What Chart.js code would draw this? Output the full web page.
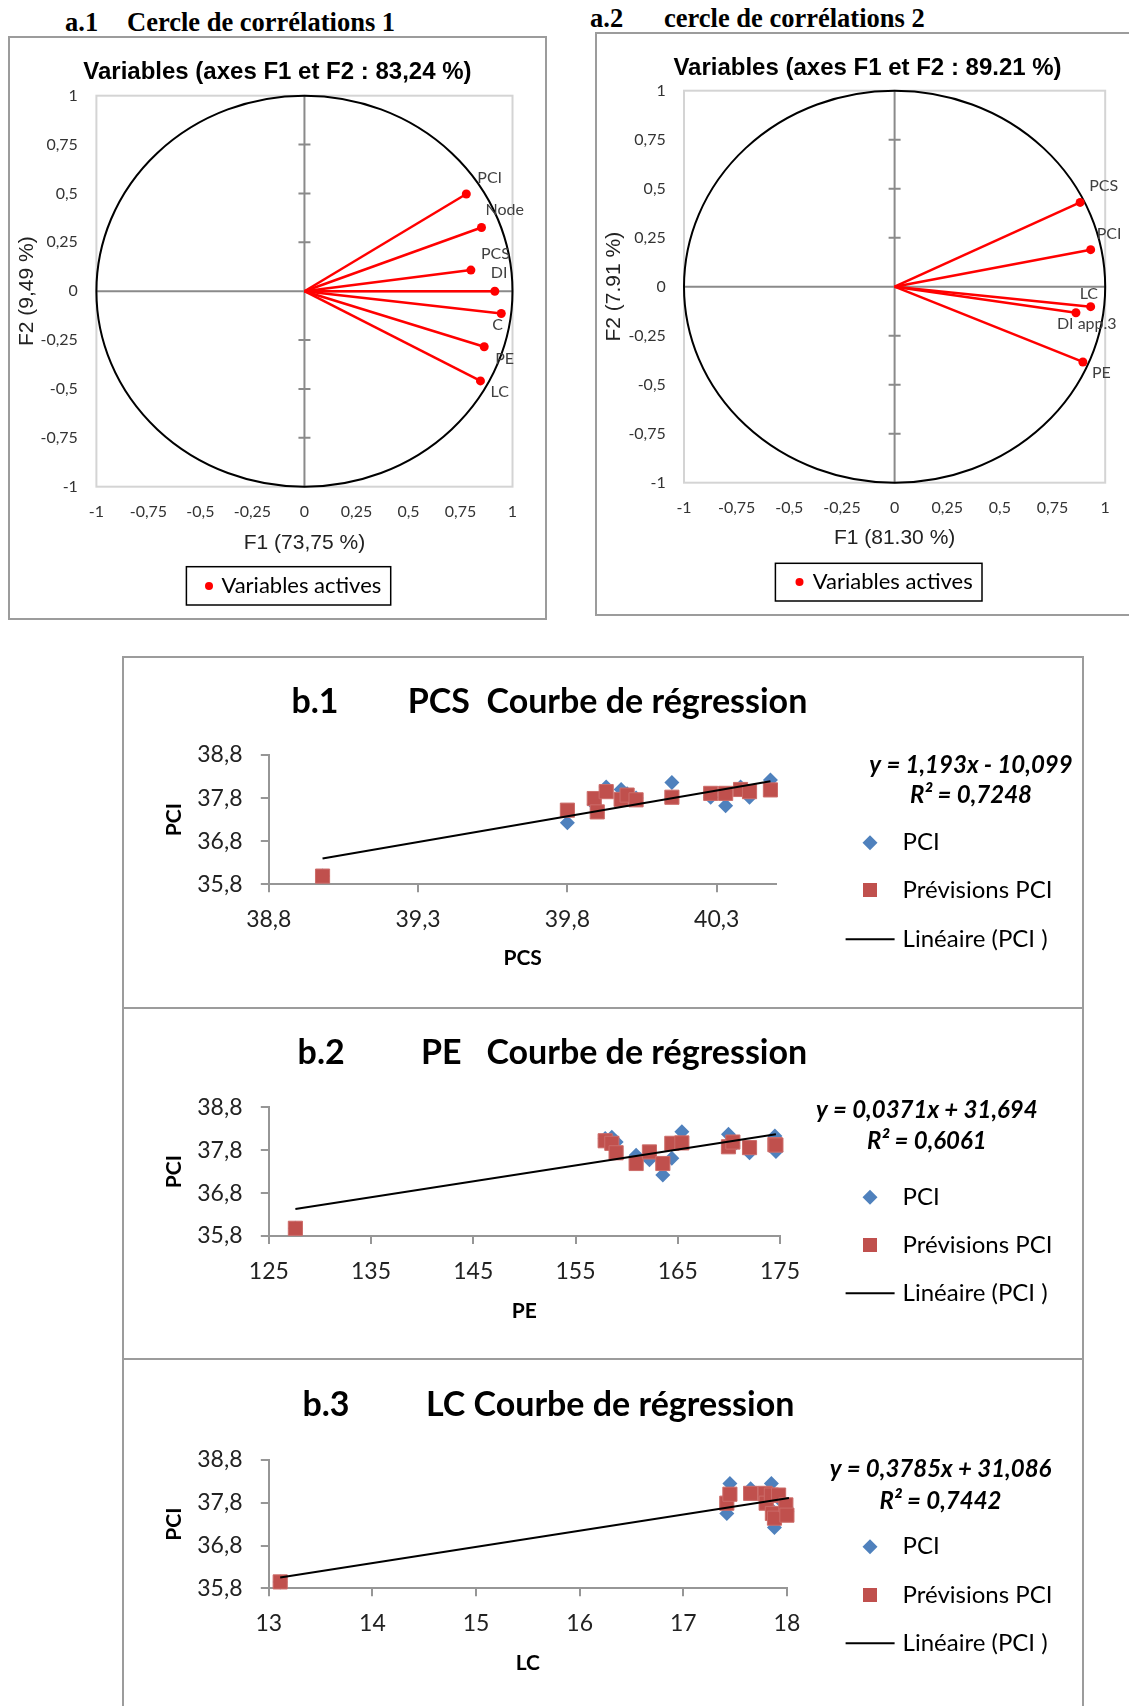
<!DOCTYPE html>
<html>
<head>
<meta charset="utf-8">
<script src="https://cdn.jsdelivr.net/npm/chart.js@4.4.1/dist/chart.umd.min.js"></script>
<style>
  body { margin: 0; background: #fff; width: 1129px; height: 1706px; position: relative; overflow: hidden; }
  .box { position: absolute; border: 2px solid #9c9c9c; box-sizing: border-box; }
  .head { position: absolute; font-family: "Liberation Serif", "Times New Roman", serif; font-weight: bold; font-size: 26.5px; line-height: 30px; white-space: pre; color: #000; }
  canvas { position: absolute; }
</style>
</head>
<body>
<div class="head" style="left:65px;top:7px">a.1</div>
<div class="head" style="left:127px;top:7px">Cercle de corrélations 1</div>
<div class="head" style="left:590px;top:3px">a.2</div>
<div class="head" style="left:664px;top:3px">cercle de corrélations 2</div>

<div class="box" style="left:8px;top:36px;width:539px;height:584px"></div>
<div class="box" style="left:595px;top:32px;width:540px;height:584px"></div>
<div class="box" style="left:122px;top:656px;width:962px;height:353px"></div>
<div class="box" style="left:122px;top:1007px;width:962px;height:353px"></div>
<div class="box" style="left:122px;top:1358px;width:962px;height:400px"></div>

<canvas id="a1" width="537" height="584" style="left:9px;top:36px"></canvas>
<canvas id="a2" width="533" height="583" style="left:596px;top:33px"></canvas>
<canvas id="b1" width="958" height="350" style="left:123px;top:657px"></canvas>
<canvas id="b2" width="958" height="349" style="left:123px;top:1009px"></canvas>
<canvas id="b3" width="958" height="345" style="left:123px;top:1361px"></canvas>

<script>
// cercle 1
var vars1 = ['PCI', 'Node', 'PCS', 'DI', 'C', 'PE', 'LC'];
var f1Vals1 = [0.778, 0.851, 0.800, 0.915, 0.946, 0.864, 0.846];
var f2Vals1 = [0.497, 0.326, 0.108, 0.000, -0.114, -0.284, -0.459];
// cercle 2
var vars2 = ['PCS', 'PCI', 'LC', 'DI app.3', 'PE'];
var f1Vals2 = [0.881, 0.931, 0.931, 0.861, 0.894];
var f2Vals2 = [0.430, 0.189, -0.102, -0.133, -0.384];
var corrTicks = [-1, -0.75, -0.5, -0.25, 0, 0.25, 0.5, 0.75, 1];

// b.1 PCS
var pcsVals = [38.98, 39.80, 39.89, 39.90, 39.93, 39.98, 40.00, 40.03, 40.15, 40.28, 40.33, 40.38, 40.41, 40.48];
var pciVals1 = [35.99, 37.23, 37.66, 37.55, 38.06, 38.00, 37.90, 37.80, 38.16, 37.82, 37.62, 38.06, 37.82, 38.22];
var prevVals1 = [35.99, 37.52, 37.79, 37.48, 37.95, 37.77, 37.87, 37.76, 37.82, 37.91, 37.91, 38.00, 37.95, 37.99];
var trendX1 = [38.98, 40.48];
var trendY1 = [36.40, 38.19];
var pcsTicks = [38.8, 39.3, 39.8, 40.3];

// b.2 PE
var peVals = [127.6, 157.9, 158.55, 158.97, 160.93, 162.23, 163.54, 164.42, 165.4, 169.96, 170.39, 172.02, 174.5, 174.6];
var pciVals2 = [35.98, 38.07, 38.10, 37.99, 37.68, 37.58, 37.22, 37.61, 38.23, 38.17, 37.90, 37.74, 38.13, 37.77];
var prevVals2 = [35.98, 38.02, 37.96, 37.74, 37.49, 37.76, 37.49, 37.96, 37.97, 37.88, 37.99, 37.86, 37.93, 37.92];
var trendX2 = [127.6, 174.6];
var trendY2 = [36.43, 38.17];
var peTicks = [125, 135, 145, 155, 165, 175];

// b.3 LC
var lcVals = [13.11, 17.42, 17.45, 17.65, 17.79, 17.80, 17.85, 17.86, 17.88, 17.92, 17.99, 18.00, 18.02];
var pciVals3 = [35.95, 37.55, 38.25, 38.13, 37.95, 37.82, 38.25, 37.62, 37.22, 37.90, 37.70, 37.60, 38.02];
var prevVals3 = [35.95, 37.79, 38.00, 38.02, 38.02, 37.79, 37.98, 37.55, 37.44, 37.98, 37.75, 37.51, 37.90];
var trendX3 = [13.11, 18.02];
var trendY3 = [36.05, 37.91];
var lcTicks = [13, 14, 15, 16, 17, 18];

var pciTicks = [35.8, 36.8, 37.8, 38.8];

Chart.defaults.font.family = 'Lato';

var fmtComma = function(v) { return String(v).replace('.', ','); };
var fmt1 = function(v) { return v.toFixed(1).replace('.', ','); };
var fmtInt = function(v) { return String(v); };

var corrDecor = function(names, lay) {
    return {
        id: 'corrDecor',
        beforeDatasetsDraw: function(chart) {
            var ctx = chart.ctx, a = chart.chartArea, xs = chart.scales.x, ys = chart.scales.y;
            var x0 = xs.getPixelForValue(0), y0 = ys.getPixelForValue(0);
            ctx.save();
            ctx.strokeStyle = '#d4d4d4';
            ctx.lineWidth = 2;
            ctx.strokeRect(a.left, a.top, a.width, a.height);
            ctx.strokeStyle = '#8a8a8a';
            ctx.beginPath();
            ctx.moveTo(a.left, y0); ctx.lineTo(a.right, y0);
            ctx.moveTo(x0, a.top); ctx.lineTo(x0, a.bottom);
            ys.ticks.forEach(function(t) {
                if (Math.abs(t.value) > 0 && Math.abs(t.value) < 1) {
                    var p = ys.getPixelForValue(t.value);
                    ctx.moveTo(x0 - 6, p); ctx.lineTo(x0 + 6, p);
                }
            });
            ctx.stroke();
            ctx.strokeStyle = '#000';
            ctx.beginPath();
            ctx.ellipse(x0, y0, xs.getPixelForValue(1) - x0, y0 - ys.getPixelForValue(1), 0, 0, 2 * Math.PI);
            ctx.stroke();
            ctx.restore();
        },
        afterDatasetsDraw: function(chart) {
            var ctx = chart.ctx;
            ctx.save();
            ctx.font = '16px Lato';
            ctx.fillStyle = '#404040';
            ctx.textAlign = 'left';
            ctx.textBaseline = 'middle';
            names.forEach(function(n, i) {
                var pt = chart.getDatasetMeta(i).data[1];
                var off = lay.offsets[i];
                ctx.fillText(n, pt.x + off[0], pt.y + off[1]);
            });
            // chart title
            ctx.fillStyle = '#000';
            ctx.textAlign = 'center';
            ctx.font = 'bold 24px "Liberation Sans"';
            ctx.fillText(lay.title, lay.titleX, lay.titleY);
            // legend box
            var L = lay.legend;
            ctx.textAlign = 'left';
            ctx.strokeStyle = '#000';
            ctx.lineWidth = 1.5;
            ctx.strokeRect(L.x, L.y, L.w, L.h);
            ctx.fillStyle = '#ff0000';
            ctx.beginPath();
            ctx.arc(L.dotX, L.cy, 4, 0, 2 * Math.PI);
            ctx.fill();
            ctx.fillStyle = '#000';
            ctx.font = '22px Lato';
            ctx.fillText('Variables actives', L.textX, L.cy);
            ctx.restore();
        }
    };
};

var corrChart = function(id, names, f1, f2, lay) {
    var datasets = names.map(function(n, i) {
        return {
            label: n,
            data: [{x: 0, y: 0}, {x: f1[i], y: f2[i]}],
            showLine: true,
            borderColor: '#ff0000',
            backgroundColor: '#ff0000',
            borderWidth: 2.5,
            pointRadius: [0, 4.5],
            pointBorderWidth: 0,
            clip: false
        };
    });
    new Chart(document.getElementById(id), {
        type: 'scatter',
        data: {datasets: datasets},
        options: {
            responsive: false,
            animation: false,
            devicePixelRatio: 1,
            events: [],
            layout: {padding: {left: 0, right: lay.padR, top: lay.padT, bottom: lay.padB}},
            plugins: {
                legend: {display: false},
                tooltip: {enabled: false},
                title: {display: false}
            },
            scales: {
                x: {
                    type: 'linear', min: -1, max: 1,
                    afterBuildTicks: function(s) { s.ticks = corrTicks.map(function(v) { return {value: v}; }); },
                    ticks: {callback: fmtComma, font: {size: 16}, color: '#333', padding: 15.4, maxRotation: 0, autoSkip: false},
                    grid: {display: false, drawTicks: false},
                    border: {display: false},
                    title: {display: true, text: lay.xTitle, color: '#222', font: {family: 'Liberation Sans', size: 21}, padding: {top: 0, bottom: lay.xTitlePad}},
                    afterFit: function(s) { s.height = 75; }
                },
                y: {
                    type: 'linear', min: -1, max: 1,
                    afterBuildTicks: function(s) { s.ticks = corrTicks.map(function(v) { return {value: v}; }); },
                    ticks: {callback: fmtComma, font: {size: 16}, color: '#333', padding: lay.yTickPad, autoSkip: false},
                    grid: {display: false, drawTicks: false},
                    border: {display: false},
                    title: {display: true, text: lay.yTitle, color: '#222', font: {family: 'Liberation Sans', size: 21}, padding: {top: lay.yTitlePad, bottom: 0}},
                    afterFit: function(s) { s.width = lay.yW; }
                }
            }
        },
        plugins: [corrDecor(names, lay)]
    });
};

var regDecor = function(lay) {
    return {
        id: 'regDecor',
        afterDraw: function(chart) {
            var ctx = chart.ctx;
            ctx.save();
            ctx.fillStyle = '#000';
            ctx.textBaseline = 'middle';
            ctx.textAlign = 'left';
            ctx.font = 'bold 34px Lato';
            ctx.fillText(lay.tag, lay.tagX, lay.titleY);
            ctx.fillText(lay.head, lay.headX, lay.titleY);
            ctx.font = 'italic bold 24px Lato';
            ctx.textAlign = 'center';
            ctx.fillText(lay.eq[0], lay.eqX, lay.eqY[0]);
            ctx.fillText(lay.eq[1], lay.eqX, lay.eqY[1]);
            ctx.textAlign = 'left';
            ctx.font = '24px Lato';
            var mx = 747, tx = 779.6;
            chart.data.datasets.forEach(function(d, i) {
                var y = lay.legY[i];
                ctx.fillStyle = d.backgroundColor;
                ctx.strokeStyle = d.borderColor;
                if (d.pointStyle === 'rectRot') {
                    ctx.beginPath();
                    ctx.moveTo(mx, y - 7.5); ctx.lineTo(mx + 7.5, y);
                    ctx.lineTo(mx, y + 7.5); ctx.lineTo(mx - 7.5, y);
                    ctx.closePath();
                    ctx.fill();
                } else if (d.pointStyle === 'rect') {
                    ctx.fillRect(mx - 7, y - 7, 14, 14);
                } else {
                    ctx.lineWidth = 2;
                    ctx.beginPath();
                    ctx.moveTo(722.6, y); ctx.lineTo(771.6, y);
                    ctx.stroke();
                }
                ctx.fillStyle = '#000';
                ctx.fillText(d.label, tx, y);
            });
            ctx.restore();
        }
    };
};

var regChart = function(id, xs, pci, prev, tx, ty, xTicks, xRange, xFmt, lay) {
    var toPts = function(xv, yv) { return xv.map(function(x, i) { return {x: x, y: yv[i]}; }); };
    var axisGrey = '#969696';
    new Chart(document.getElementById(id), {
        type: 'scatter',
        data: {
            datasets: [
                {label: 'PCI', data: toPts(xs, pci), pointStyle: 'rectRot', pointRadius: 7.5, pointBorderWidth: 0,
                 backgroundColor: '#4f81bd', borderColor: '#4f81bd', order: 2, clip: false},
                {label: 'Prévisions PCI', data: toPts(xs, prev), pointStyle: 'rect', pointRadius: 10, pointBorderWidth: 1,
                 backgroundColor: '#c0504d', borderColor: '#cc6c69', order: 1, clip: false},
                {label: 'Linéaire (PCI )', data: toPts(tx, ty), showLine: true, pointRadius: 0,
                 backgroundColor: '#000', borderColor: '#000', borderWidth: 2, order: 0, clip: false}
            ]
        },
        options: {
            responsive: false,
            animation: false,
            devicePixelRatio: 1,
            events: [],
            layout: {padding: {left: 0, right: lay.padR, top: lay.padT, bottom: lay.padB}},
            plugins: {legend: {display: false}, tooltip: {enabled: false}},
            scales: {
                x: {
                    type: 'linear', min: xRange[0], max: xRange[1],
                    afterBuildTicks: function(s) { s.ticks = xTicks.map(function(v) { return {value: v}; }); },
                    ticks: {callback: xFmt, font: {size: 23}, color: '#222', padding: lay.xTickPad, maxRotation: 0, autoSkip: false},
                    grid: {drawOnChartArea: false, color: axisGrey, lineWidth: 2, tickLength: 8},
                    border: {color: axisGrey, width: 2},
                    title: {display: true, text: lay.xTitle, color: '#000', font: {size: 21, weight: 'bold'}, padding: {top: 0, bottom: lay.xTitlePad}},
                    afterFit: function(s) { s.height = 100; }
                },
                y: {
                    type: 'linear', min: 35.8, max: 38.8,
                    afterBuildTicks: function(s) { s.ticks = pciTicks.map(function(v) { return {value: v}; }); },
                    ticks: {callback: fmt1, font: {size: 23}, color: '#222', padding: 18.3, autoSkip: false},
                    grid: {drawOnChartArea: false, color: axisGrey, lineWidth: 2, tickLength: 8},
                    border: {color: axisGrey, width: 2},
                    title: {display: true, text: 'PCI', color: '#000', font: {size: 21, weight: 'bold'}, padding: {top: 38.4, bottom: 0}},
                    afterFit: function(s) { s.width = 145.8; }
                }
            }
        },
        plugins: [regDecor(lay)]
    });
};

corrChart('a1', vars1, f1Vals1, f2Vals1, {
    title: 'Variables (axes F1 et F2 : 83,24 %)', titleX: 268.4, titleY: 36,
    xTitle: 'F1 (73,75 %)', yTitle: 'F2 (9,49 %)',
    padR: 33.5, padT: 59.7, padB: 58.3, xTitlePad: 6.2, yTickPad: 18.5, yTitlePad: 5.8, yW: 87.4,
    offsets: [[11, -16], [4, -18], [10, -16], [-4, -18], [-9, 11], [11, 12], [10, 11]],
    legend: {x: 177.4, y: 530.7, w: 204.3, h: 38.3, dotX: 200, textX: 212.4, cy: 550}
});

corrChart('a2', vars2, f1Vals2, f2Vals2, {
    title: 'Variables (axes F1 et F2 : 89.21 %)', titleX: 271.5, titleY: 35.3,
    xTitle: 'F1 (81.30 %)', yTitle: 'F2 (7.91 %)',
    padR: 23.8, padT: 57.7, padB: 58.3, xTitlePad: 7.2, yTickPad: 18.2, yTitlePad: 5.3, yW: 88,
    offsets: [[9, -17], [6, -16], [-11, -13], [-19, 11], [9, 11]],
    legend: {x: 179.4, y: 530.3, w: 206.6, h: 37.7, dotX: 203.5, textX: 216.8, cy: 549}
});

regChart('b1', pcsVals, pciVals1, prevVals1, trendX1, trendY1, pcsTicks, [38.8, 40.5], fmt1, {
    padR: 304.6, padT: 98, padB: 22.7, xTickPad: 13.2, xTitlePad: 13.7, xTitle: 'PCS',
    tag: 'b.1', tagX: 168.5, head: 'PCS  Courbe de régression', headX: 284.8, titleY: 44.7,
    eq: ['y = 1,193x - 10,099', 'R\u00b2 = 0,7248'], eqX: 848, eqY: [108, 138.7],
    legY: [185.7, 233, 282.3]
});

regChart('b2', peVals, pciVals2, prevVals2, trendX2, trendY2, peTicks, [125, 175], fmtInt, {
    padR: 301, padT: 98.3, padB: 22, xTickPad: 13.9, xTitlePad: 11.7, xTitle: 'PE',
    tag: 'b.2', tagX: 174.6, head: 'PE   Courbe de régression', headX: 298, titleY: 44.3,
    eq: ['y = 0,0371x + 31,694', 'R\u00b2 = 0,6061'], eqX: 803.8, eqY: [101, 132.7],
    legY: [188.3, 236, 284.3]
});

regChart('b3', lcVals, pciVals3, prevVals3, trendX3, trendY3, lcTicks, [13, 18], fmtInt, {
    padR: 294.1, padT: 99, padB: 17.7, xTickPad: 13.9, xTitlePad: 12.4, xTitle: 'LC',
    tag: 'b.3', tagX: 179.5, head: 'LC Courbe de régression', headX: 303, titleY: 44,
    eq: ['y = 0,3785x + 31,086', 'R\u00b2 = 0,7442'], eqX: 817.5, eqY: [108.3, 140.7],
    legY: [185.7, 234, 282.3]
});
</script>
</body>
</html>
